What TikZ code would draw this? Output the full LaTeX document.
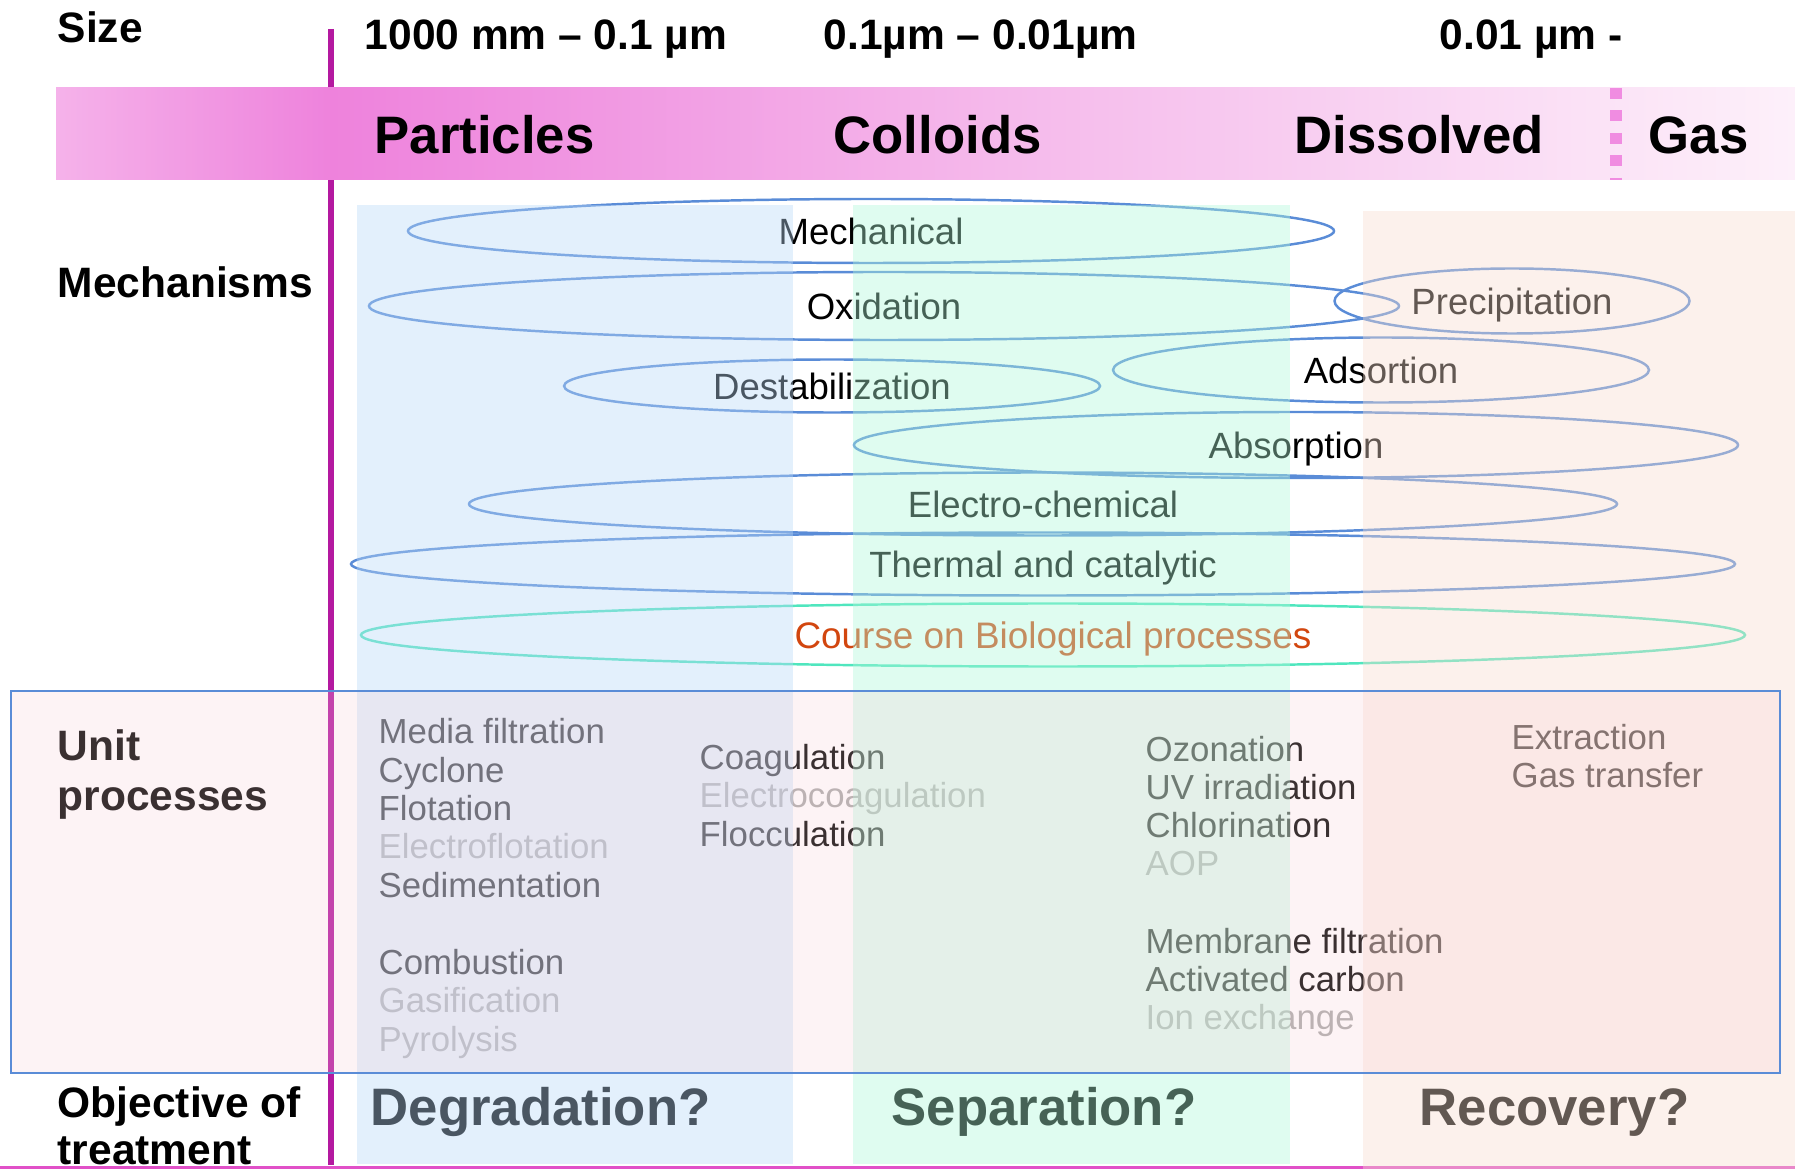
\documentclass[tikz,border=0pt]{standalone}
\usepackage{fontspec}
\setmainfont{Liberation Sans}
\usetikzlibrary{shapes.geometric}

\definecolor{linemag}{RGB}{180,25,160}
\definecolor{bandlight}{RGB}{245,178,234}
\definecolor{banddark}{RGB}{238,130,220}
\definecolor{bandmid}{RGB}{245,185,235}
\definecolor{bandpale}{RGB}{253,240,250}
\definecolor{dashpink}{RGB}{240,140,225}
\definecolor{ellblue}{RGB}{90,140,215}
\definecolor{ellgreen}{RGB}{80,230,190}
\definecolor{bioorange}{RGB}{210,70,15}
\definecolor{fadegray}{RGB}{170,170,170}
\definecolor{colblue}{RGB}{185,217,247}
\definecolor{colgreen}{RGB}{175,247,217}
\definecolor{colpeach}{RGB}{247,220,207}
\definecolor{boxpink}{RGB}{247,205,212}
\definecolor{bottompink}{RGB}{225,80,200}

\begin{document}
\begin{tikzpicture}
      [x=0.1mm,y=-0.1mm,
       head/.style={anchor=base west,inner sep=0pt,font=\fontsize{12.1}{14}\selectfont\bfseries},
       big label/.style={anchor=base west,inner sep=0pt,font=\fontsize{15}{18}\selectfont\bfseries},
       mech node/.style={ellipse,draw=ellblue,line width=0.7pt,inner sep=0pt,text depth=0pt,font=\fontsize{10.4}{12}\selectfont},
       item/.style={anchor=base west,inner sep=0pt,font=\fontsize{9.9}{12}\selectfont},
       faded/.style={item,text=fadegray}]
        \useasboundingbox (0,0) rectangle (1795,1169);

        % axis line and band
        \draw[linemag,line width=0.6mm] (331,29) -- (331,1165);
        \draw[bottompink,line width=0.3mm] (0,1167) -- (1795,1167);
        \shade[left color=bandlight,right color=banddark] (56,88) rectangle (332,180);
        \shade[left color=banddark,right color=bandmid] (331,88) rectangle (1001,180);
        \shade[left color=bandmid,right color=bandpale] (1000,88) rectangle (1795,180);
        \draw[dashpink,line width=1.2mm,dash pattern=on 1.1mm off 1.15mm] (1616,88) -- (1616,180);

        % size row
        \node[head] (size) at (57,43) {Size};
        \node[head] (s1) at (364,50) {1000 mm -- 0.1 µm};
        \node[head] (s2) at (823,50) {0.1µm -- 0.01µm};
        \node[head] (s3) at (1439,50) {0.01 µm -};

        \node[big label] (part) at (374,154) {Particles};
        \node[big label] (coll) at (833,154) {Colloids};
        \node[big label] (diss) at (1294,154) {Dissolved};
        \node[big label] (gas) at (1648,154) {Gas};

        % mechanisms
        \node[head] (mechs) at (57,298) {Mechanisms};
        \node[mech node,minimum width=92.6mm,minimum height=6.4mm] (mech) at (871,231) {Mechanical};
        \node[mech node,minimum width=103mm,minimum height=6.8mm] (oxi) at (884,306) {Oxidation};
        \node[mech node,minimum width=35.5mm,minimum height=6.5mm] (prec) at (1512,301) {Precipitation};
        \node[mech node,minimum width=53.6mm,minimum height=5.3mm] (dest) at (832,386) {Destabilization};
        \node[mech node,minimum width=53.6mm,minimum height=6.5mm] (adso) at (1381,370) {Adsortion};
        \node[mech node,minimum width=88.4mm,minimum height=6.6mm] (abso) at (1296,445) {Absorption};
        \node[mech node,minimum width=114.8mm,minimum height=6.3mm] (elec) at (1043,504) {Electro-chemical};
        \node[mech node,minimum width=138.4mm,minimum height=6.3mm] (therm) at (1043,564) {Thermal and catalytic};
        \node[mech node,draw=ellgreen,text=bioorange,font=\fontsize{10.5}{12}\selectfont,
              minimum width=138.4mm,minimum height=6.3mm] (bio) at (1053,635) {Course on Biological processes};

        % unit processes
        \node[head] (unit) at (57,760) {Unit};
        \node[head] (unit2) at (57,810) {processes};

        \node[item] (p1) at (378,743) {Media filtration};
        \node[item] (p2) at (378,782) {Cyclone};
        \node[item] (p3) at (378,820) {Flotation};
        \node[faded] (p4) at (378,858) {Electroflotation};
        \node[item] (p5) at (378,897) {Sedimentation};
        \node[item] (p6) at (378,974) {Combustion};
        \node[faded] (p7) at (378,1012) {Gasification};
        \node[faded] (p8) at (378,1051) {Pyrolysis};

        \node[item] (c1) at (699,769) {Coagulation};
        \node[faded] (c2) at (699,807) {Electrocoagulation};
        \node[item] (c3) at (699,846) {Flocculation};

        \node[item] (d1) at (1145,761) {Ozonation};
        \node[item] (d2) at (1145,799) {UV irradiation};
        \node[item] (d3) at (1145,837) {Chlorination};
        \node[faded] (d4) at (1145,875) {AOP};
        \node[item] (d5) at (1145,953) {Membrane filtration};
        \node[item] (d6) at (1145,991) {Activated carbon};
        \node[faded] (d7) at (1145,1029) {Ion exchange};

        \node[item] (g1) at (1511,749) {Extraction};
        \node[item] (g2) at (1511,787) {Gas transfer};

        % objectives
        \node[head] (obj) at (57,1117) {Objective of};
        \node[head] (obj2) at (57,1164) {treatment};
        \node[big label] (degr) at (370,1125) {Degradation?};
        \node[big label] (sepa) at (891,1125) {Separation?};
        \node[big label] (reco) at (1419,1125) {Recovery?};

        % columns and box laid over the text
        \fill[colblue,fill opacity=0.4] (357,205) rectangle (793,1164);
        \fill[colgreen,fill opacity=0.4] (853,205) rectangle (1290,1164);
        \fill[colpeach,fill opacity=0.4] (1363,211) rectangle (1795,1169);
        \filldraw[fill=boxpink,fill opacity=0.235,draw=ellblue,line width=0.2mm] (11,691) rectangle (1780,1073);

      \end{tikzpicture}
\end{document}
